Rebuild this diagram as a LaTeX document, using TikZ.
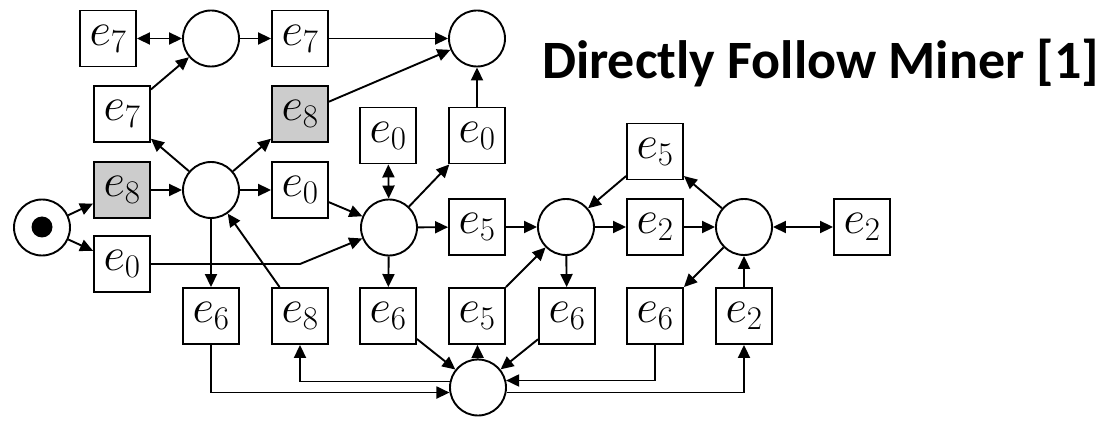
\RequirePackage{fix-cm}
\documentclass[tikz,border=0pt]{standalone}
\usepackage{fontspec}
\newfontfamily\titlefont{Carlito}
\usetikzlibrary{arrows.meta}
\DeclareMathSizes{47}{47}{33}{24}
\newcommand{\evt}[1]{$e_{#1}$}
\begin{document}
\begin{tikzpicture}[x=1pt,y=-1pt, line width=1.9pt,
  >={Triangle[length=13pt,width=12pt]},
  tbox/.style={draw, rectangle, minimum width=56pt, minimum height=56pt, inner sep=0pt, font=\fontsize{47}{47}\selectfont},
  gbox/.style={tbox, fill=gray!40},
  place/.style={draw, circle, minimum size=56pt, inner sep=0pt},
  token/.style={circle, fill=black, minimum size=21pt, inner sep=0pt}]
\useasboundingbox (0,0) rectangle (1114,422);
% nodes
\node[tbox] (e7a) at (108,38.5) {\evt{7}};
\node[place] (c1) at (211,38.5) {};
\node[tbox] (e7b) at (300,38.5) {\evt{7}};
\node[place] (c2) at (477,38.5) {};
\node[tbox] (e7m) at (122,114) {\evt{7}};
\node[gbox] (e8m) at (300,114) {\evt{8}};
\node[tbox] (e0t) at (388,135.5) {\evt{0}};
\node[tbox] (e0u) at (477,135.5) {\evt{0}};
\node[gbox] (e8l) at (122,190) {\evt{8}};
\node[place] (c3) at (211,190) {};
\node[tbox] (e0m) at (300,190) {\evt{0}};
\node[place] (s) at (42,227.5) {};
\node[token] (tok) at (42,227) {};
\node[tbox] (e0l) at (122,264) {\evt{0}};
\node[place] (c4) at (389,227.5) {};
\node[tbox] (e5m) at (477,227) {\evt{5}};
\node[place] (c5) at (566,227) {};
\node[tbox] (e2m) at (655,227) {\evt{2}};
\node[tbox] (e5u) at (655,151.5) {\evt{5}};
\node[place] (c6) at (744,227) {};
\node[tbox] (e2r) at (862,227) {\evt{2}};
\node[tbox] (e6a) at (211,316) {\evt{6}};
\node[tbox] (e8b) at (300,316) {\evt{8}};
\node[tbox] (e6b) at (388,316) {\evt{6}};
\node[tbox] (e5b) at (477,316) {\evt{5}};
\node[tbox] (e6c) at (567,316) {\evt{6}};
\node[tbox] (e6d) at (655,316) {\evt{6}};
\node[tbox] (e2b) at (744,316) {\evt{2}};
\node[place] (c7) at (478,387.5) {};
\node[anchor=base east, inner sep=0pt, font=\titlefont\bfseries\fontsize{54}{54}\selectfont] (title) at (1100,79) {Directly Follow Miner [1]};
\coordinate (k) at (300,264);
% edges
\draw[<->] (e7a) -- (c1);
\draw[->] (c1) -- (e7b);
\draw[->] (e7b) -- (c2);
\draw[->] (e8m) -- (c2);
\draw[->] (e0u) -- (c2);
\draw[->] (e7m) -- (c1);
\draw[->] (c3) -- (e7m);
\draw[->] (c3) -- (e8m);
\draw[->] (e8l) -- (c3);
\draw[->] (c3) -- (e0m);
\draw[->] (s) -- (e8l);
\draw[->] (s) -- (e0l);
\draw[->] (e0m) -- (c4);
\draw[->] (e0l.east) -- (k) -- (c4);
\draw[->] (c3) -- (e6a);
\draw[->] (e8b) -- (c3);
\draw[<->] (e0t) -- (c4);
\draw[->] (c4) -- (e0u);
\draw[->] (c4) -- (e5m);
\draw[->] (c4) -- (e6b);
\draw[->] (e5m) -- (c5);
\draw[->] (e5b) -- (c5);
\draw[->] (c5) -- (e6c);
\draw[->] (c5) -- (e2m);
\draw[->] (e5u) -- (c5);
\draw[->] (e2m) -- (c6);
\draw[->] (c6) -- (e5u);
\draw[->] (c6) -- (e6d);
\draw[->] (e2b) -- (c6);
\draw[<->] (c6) -- (e2r);
\draw[->] (e6b) -- (c7);
\draw[->] (c7) -- (e5b);
\draw[->] (e6c) -- (c7);
\draw[->] (e6a.south) |- (c7.190);
\draw[->] (c7.168) -| (e8b.south);
\draw[->] (e6d.south) |- (c7.14);
\draw[->] (c7.350) -| (e2b.south);
\end{tikzpicture}
\end{document}
